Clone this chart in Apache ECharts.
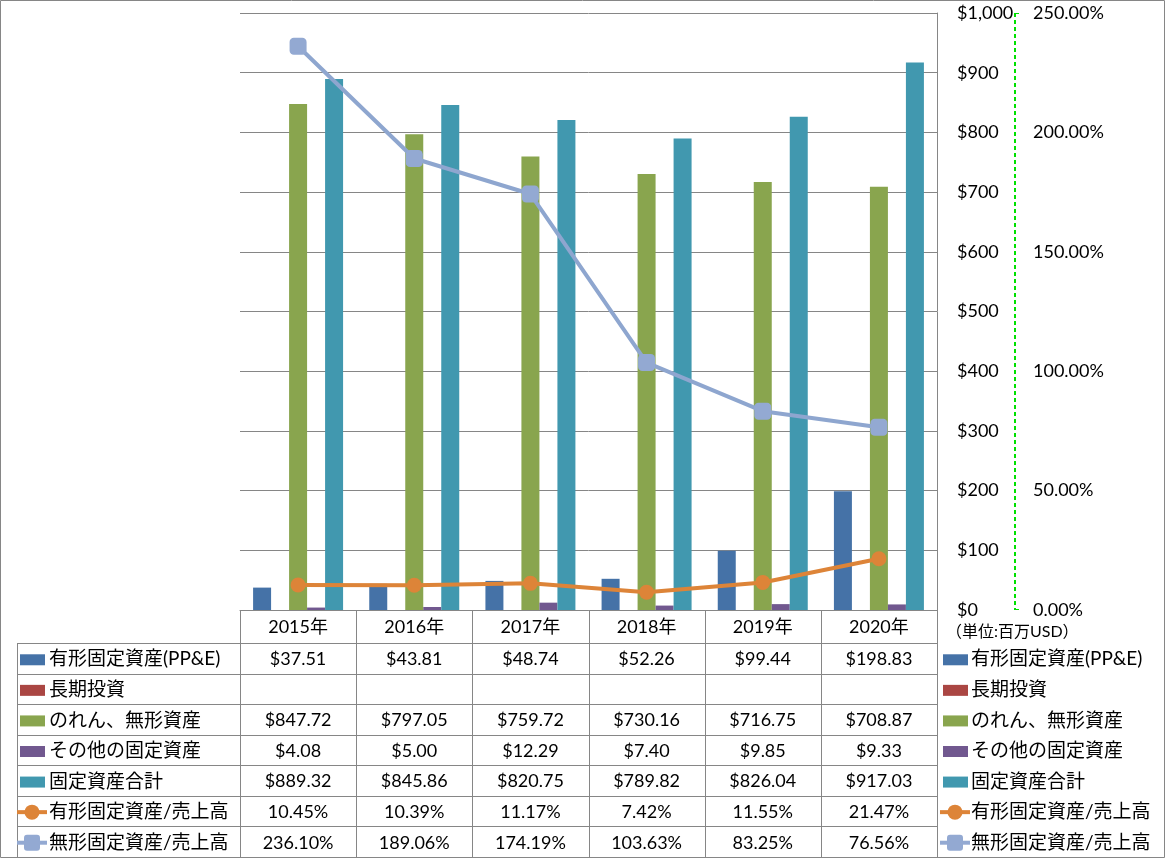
<!DOCTYPE html>
<html>
<head>
<meta charset="utf-8">
<script src="https://cdn.jsdelivr.net/npm/echarts@6/dist/echarts.min.js"></script>
<style>
html,body{margin:0;padding:0;background:#fff;}
#main{width:1165px;height:858px;}
</style>
</head>
<body>
<div id="main"></div>
<script>
// ---- data ----
var categories = ['2015年','2016年','2017年','2018年','2019年','2020年'];
var ppe        = [37.51, 43.81, 48.74, 52.26, 99.44, 198.83];
var longInv    = [null, null, null, null, null, null];
var goodwill   = [847.72, 797.05, 759.72, 730.16, 716.75, 708.87];
var otherFixed = [4.08, 5.00, 12.29, 7.40, 9.85, 9.33];
var totalFixed = [889.32, 845.86, 820.75, 789.82, 826.04, 917.03];
var ppeRatio   = [10.45, 10.39, 11.17, 7.42, 11.55, 21.47];
var intRatio   = [236.10, 189.06, 174.19, 103.63, 83.25, 76.56];
var seriesNames = ['有形固定資産(PP&E)','長期投資','のれん、無形資産','その他の固定資産','固定資産合計','有形固定資産/売上高','無形固定資産/売上高'];
var unitLabel = '（単位:百万USD）';

// ---- style ----
var colors = ['#4572A7','#AA4643','#89A54E','#71588F','#4198AF','#DB843D','#93A9CF'];
var FONT = "Lato, 'Noto Sans CJK JP', sans-serif";
var W = 1165, H = 858;
var gL = 240, gR = 937, gT = 13, gB = 610;
var rowTop = 643, rowH = (857 - 643) / 7;
var colW = (gR - gL) / categories.length;
var pctAxisOffset = 78;

var chart = echarts.init(document.getElementById('main'), null, {renderer:'canvas'});

var barData = [ppe, longInv, goodwill, otherFixed, totalFixed];
var series = [];
barData.forEach(function(d, i){
  series.push({
    name: seriesNames[i], type:'bar', data:d, yAxisIndex:0,
    barWidth:18, barGap:'0%', itemStyle:{color:colors[i]}, z:2
  });
});
series.push({
  name: seriesNames[5], type:'line', data:ppeRatio, yAxisIndex:1,
  symbol:'circle', symbolSize:15, lineStyle:{width:4, color:'#DD8438'},
  itemStyle:{color:'#DD8438'}, z:5
});
series.push({
  name: seriesNames[6], type:'line', data:intRatio, yAxisIndex:1,
  symbol:'roundRect', symbolSize:17, lineStyle:{width:4, color:'#8EA6CF'},
  itemStyle:{color:'#93A9D2'}, z:5
});

// ---- table graphics ----
var g = [];
function line(x1,y1,x2,y2,color,z,dash,w){
  g.push({type:'line', shape:{x1:x1,y1:y1,x2:x2,y2:y2}, style:{stroke:color||'#868686', lineWidth:w||1, lineDash:dash||null}, z:z||10, silent:true});
}
function text(t,x,y,align,size){
  g.push({type:'text', style:{text:t, x:x, y:y, align:align||'left', verticalAlign:'middle', font:(size||18)+'px '+FONT, fill:'#000'}, z:11, silent:true});
}
function key(i,x,y){
  if(i<5){
    g.push({type:'rect', shape:{x:x+3, y:y-5, width:25, height:11}, style:{fill:colors[i]}, z:11, silent:true});
  } else {
    var c = i===5 ? '#DD8438' : '#93A9D2';
    g.push({type:'line', shape:{x1:x, y1:y, x2:x+30, y2:y}, style:{stroke:c, lineWidth:4}, z:11, silent:true});
    if(i===5) g.push({type:'circle', shape:{cx:x+15, cy:y, r:7.5}, style:{fill:c}, z:12, silent:true});
    else g.push({type:'rect', shape:{x:x+7, y:y-8, width:16, height:16, r:3}, style:{fill:c}, z:12, silent:true});
  }
}
// outer border
g.push({type:'rect', shape:{x:0.5,y:0.5,width:W-1,height:H-1}, style:{fill:null, stroke:'#868686', lineWidth:1}, z:9, silent:true});
// secondary axis line (green dashed)
var ax = gR + pctAxisOffset;
line(ax, gT, ax, gB, '#00E000', 10, [4,3], 2);
line(ax, gT + 0.5, ax + 4, gT + 0.5, '#00E000', 10, null, 1);
line(ax, gB - 0.5, ax + 4, gB - 0.5, '#00E000', 10, null, 1);
// vertical column lines
for(var c=0;c<=categories.length;c++){
  var x = Math.round(gL + c*colW) + 0.5;
  line(x, gB, x, 857);
}
// header years
categories.forEach(function(cat,i){ text(cat, gL + (i+0.5)*colW, (gB+rowTop)/2 + 1, 'center', 18); });
// label column left border
line(17.5, rowTop, 17.5, 857);
// row lines
for(var r=0;r<=7;r++){
  var y = Math.round(rowTop + r*rowH) + 0.5;
  line(17, y, gR, y);
}
var allVals = [ppe, longInv, goodwill, otherFixed, totalFixed, ppeRatio, intRatio];
allVals.forEach(function(arr, r){
  var cy = rowTop + (r+0.5)*rowH + 1;
  key(r, 17, cy);
  text(seriesNames[r], 49, cy, 'left', 19);
  key(r, 940, cy);
  text(seriesNames[r], 971, cy, 'left', 19);
  arr.forEach(function(v, i){
    if(v === null || v === undefined) return;
    var s = r < 5 ? '$' + v.toFixed(2) : v.toFixed(2) + '%';
    text(s, gL + (i+0.5)*colW, cy, 'center', 18);
  });
});
text(unitLabel, 946, 632, 'left', 16);

chart.setOption({
  animation:false,
  backgroundColor:'#fff',
  grid:{left:gL, right:W-gR, top:gT, bottom:H-gB, containLabel:false},
  xAxis:{type:'category', data:categories,
    axisLine:{show:true, lineStyle:{color:'#868686'}}, axisTick:{show:false}, axisLabel:{show:false}},
  yAxis:[
    {type:'value', position:'right', min:0, max:1000, interval:100,
     axisLine:{show:true, lineStyle:{color:'#868686'}}, axisTick:{show:false},
     splitLine:{show:true, lineStyle:{color:'#868686'}},
     axisLabel:{align:'left', margin:20, color:'#000', fontSize:18, fontFamily:FONT,
       formatter:function(v){ return '$' + v.toLocaleString('en-US'); }}},
    {type:'value', position:'right', offset:pctAxisOffset, min:0, max:250, interval:50,
     axisLine:{show:false}, axisTick:{show:false},
     splitLine:{show:false},
     axisLabel:{align:'left', margin:18, color:'#000', fontSize:18, fontFamily:FONT,
       formatter:function(v){ return v.toFixed(2) + '%'; }}}
  ],
  series: series,
  graphic: g
});
</script>
</body>
</html>
